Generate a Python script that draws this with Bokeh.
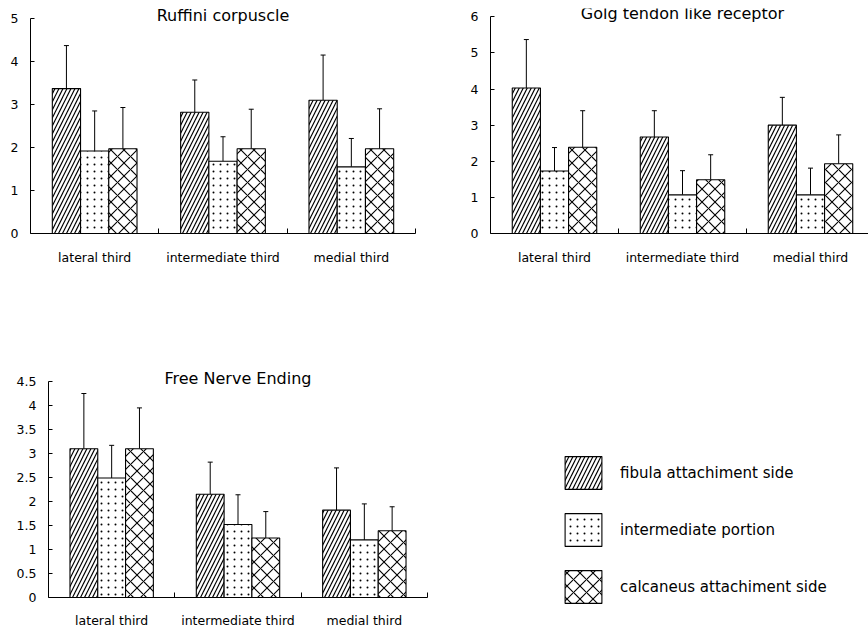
from urllib.parse import quote
from bokeh.plotting import figure
from bokeh.models import (ColumnDataSource, Range1d, FixedTicker, Whisker, TeeHead,
                          Label, Legend, LegendItem, ImageURLTexture)
from bokeh.layouts import column, row
from bokeh.transform import dodge
from bokeh.embed import file_html
from bokeh.resources import INLINE

# ---------------- data ----------------
regions = ["lateral third", "intermediate third", "medial third"]
series = ["fibula attachiment side", "intermediate portion", "calcaneus attachiment side"]

ruffini_title = "Ruffini corpuscle"
ruffini_fibula = [3.37, 2.82, 3.10]
ruffini_fibula_sd = [1.00, 0.75, 1.05]
ruffini_inter = [1.92, 1.68, 1.55]
ruffini_inter_sd = [0.93, 0.57, 0.66]
ruffini_calc = [1.97, 1.97, 1.97]
ruffini_calc_sd = [0.96, 0.92, 0.93]
ruffini_yticks = [0, 1, 2, 3, 4, 5]
ruffini_ylabels = ["0", "1", "2", "3", "4", "5"]

golgi_title = "Golg tendon like receptor"
golgi_fibula = [4.03, 2.67, 3.00]
golgi_fibula_sd = [1.34, 0.73, 0.77]
golgi_inter = [1.73, 1.07, 1.07]
golgi_inter_sd = [0.65, 0.67, 0.74]
golgi_calc = [2.39, 1.49, 1.93]
golgi_calc_sd = [1.01, 0.69, 0.80]
golgi_yticks = [0, 1, 2, 3, 4, 5, 6]
golgi_ylabels = ["0", "1", "2", "3", "4", "5", "6"]

free_title = "Free Nerve Ending"
free_fibula = [3.10, 2.15, 1.82]
free_fibula_sd = [1.15, 0.67, 0.88]
free_inter = [2.49, 1.52, 1.20]
free_inter_sd = [0.68, 0.62, 0.75]
free_calc = [3.10, 1.24, 1.39]
free_calc_sd = [0.85, 0.55, 0.50]
free_yticks = [0, 0.5, 1, 1.5, 2, 2.5, 3, 3.5, 4, 4.5]
free_ylabels = ["0", "0.5", "1", "1.5", "2", "2.5", "3", "3.5", "4", "4.5"]

# ---------------- styling ----------------
FONT = "DejaVu Sans"
DOT_SVG = ("<svg xmlns='http://www.w3.org/2000/svg' width='7' height='7'>"
           "<circle cx='3.5' cy='3.5' r='1' fill='black'/></svg>")
DOT_URL = "data:image/svg+xml;charset=utf-8," + quote(DOT_SVG)

patterns = ["/", "smalldots", "x"]
scales = [8, 7, 13]
weights = [1.2, 1.0, 1.1]
BAR_W = 0.22
offsets = [-BAR_W, 0.0, BAR_W]
centers = [i + 0.5 for i in range(len(regions))]


def bar_style(k):
    return dict(fill_color="white", line_color="black", line_width=1.1,
                hatch_pattern="hatch", hatch_scale=scales[k],
                hatch_weight=weights[k], hatch_color="black",
                hatch_extra={"smalldots": ImageURLTexture(url=DOT_URL)})


def series_source(mean, sd, k):
    return ColumnDataSource(dict(
        x=centers, mean=mean,
        upper=[m + s for m, s in zip(mean, sd)],
        hatch=[patterns[k]] * len(centers)))


def make_panel(title, means, sds, yticks, ylabels, width, height, x_end, y_end,
               bl, br, bt, bb, title_y, label_standoff):
    p = figure(width=width, height=height, x_range=Range1d(0, x_end),
               y_range=Range1d(0, y_end), output_backend="svg",
               toolbar_location=None, min_border=0)
    p.min_border_left = bl
    p.min_border_right = br
    p.min_border_top = bt
    p.min_border_bottom = bb
    p.outline_line_color = None
    p.xgrid.visible = False
    p.ygrid.visible = False
    p.background_fill_color = "white"
    p.border_fill_color = "white"

    for k in range(3):
        src = series_source(means[k], sds[k], k)
        p.vbar(x=dodge("x", offsets[k]), top="mean", width=BAR_W, source=src,
               **bar_style(k))
        w = Whisker(base=dodge("x", offsets[k]), lower="mean", upper="upper",
                    source=src, dimension="height", line_color="black", line_width=1,
                    upper_head=TeeHead(size=5, line_color="black", line_width=1),
                    lower_head=None)
        p.add_layout(w)

    ya = p.yaxis[0]
    ya.ticker = FixedTicker(ticks=yticks)
    ya.major_label_overrides = {t: l for t, l in zip(yticks, ylabels)}
    ya.bounds = (0, yticks[-1])
    ya.major_tick_in = 4
    ya.major_tick_out = 0
    ya.minor_tick_in = 0
    ya.minor_tick_out = 0
    ya.major_label_standoff = 12
    ya.major_label_text_font = FONT
    ya.major_label_text_font_size = "12.5px"
    ya.major_label_text_color = "black"
    ya.axis_line_color = "black"
    ya.major_tick_line_color = "black"

    xa = p.xaxis[0]
    xa.ticker = FixedTicker(ticks=centers, minor_ticks=[1, 2, 3])
    xa.major_label_overrides = {c: r for c, r in zip(centers, regions)}
    xa.bounds = (0, 3)
    xa.major_tick_in = 0
    xa.major_tick_out = 0
    xa.minor_tick_in = 5
    xa.minor_tick_out = 0
    xa.major_label_standoff = label_standoff
    xa.major_label_text_font = FONT
    xa.major_label_text_font_size = "12.5px"
    xa.major_label_text_color = "black"
    xa.axis_line_color = "black"
    xa.minor_tick_line_color = "black"

    p.add_layout(Label(x=1.5, y=title_y, text=title, text_align="center",
                       text_baseline="middle", text_font=FONT,
                       text_font_size="16px", text_color="black"))
    return p


p1 = make_panel(ruffini_title,
                [ruffini_fibula, ruffini_inter, ruffini_calc],
                [ruffini_fibula_sd, ruffini_inter_sd, ruffini_calc_sd],
                ruffini_yticks, ruffini_ylabels,
                width=448, height=360, x_end=3.0, y_end=5.0 + 10 / 43,
                bl=30, br=33, bt=8, bb=127, title_y=5.07, label_standoff=16)

p2 = make_panel(golgi_title,
                [golgi_fibula, golgi_inter, golgi_calc],
                [golgi_fibula_sd, golgi_inter_sd, golgi_calc_sd],
                golgi_yticks, golgi_ylabels,
                width=420, height=360, x_end=378 / 128, y_end=6.23,
                bl=42, br=0, bt=8, bb=127, title_y=6.1, label_standoff=16)

free_means = [free_fibula, free_inter, free_calc]
free_sds = [free_fibula_sd, free_inter_sd, free_calc_sd]
p3 = make_panel(free_title, free_means, free_sds,
                free_yticks, free_ylabels,
                width=440, height=270, x_end=3.0, y_end=4.5 + 21 / 48,
                bl=48, br=13, bt=0, bb=33, title_y=4.56, label_standoff=15)

# ---------------- legend panel ----------------
pl = figure(width=428, height=270, x_range=Range1d(0, 3), y_range=Range1d(0, 5),
            output_backend="svg", toolbar_location=None, min_border=0,
            x_axis_type=None, y_axis_type=None)
pl.frame_align = False
pl.outline_line_color = None
pl.xgrid.visible = False
pl.ygrid.visible = False
pl.background_fill_color = "white"
pl.border_fill_color = "white"
items = []
for k in range(3):
    src = series_source(free_means[k], free_sds[k], k)
    r = pl.vbar(x=dodge("x", offsets[k]), top="mean", width=BAR_W, source=src,
                visible=False, **bar_style(k))
    items.append(LegendItem(label=series[k], renderers=[r]))

legend = Legend(items=items, location=(120, 23), orientation="vertical",
                glyph_width=46, glyph_height=41, label_height=41, spacing=16,
                label_standoff=14, padding=0, margin=0,
                border_line_color=None, background_fill_alpha=0,
                inactive_fill_alpha=0,
                label_text_font=FONT, label_text_font_size="15px",
                label_text_color="black")
pl.add_layout(legend)

layout = column(row(p1, p2, spacing=0), row(p3, pl, spacing=0), spacing=0)

open("out.html", "w").write(file_html(layout, INLINE))
